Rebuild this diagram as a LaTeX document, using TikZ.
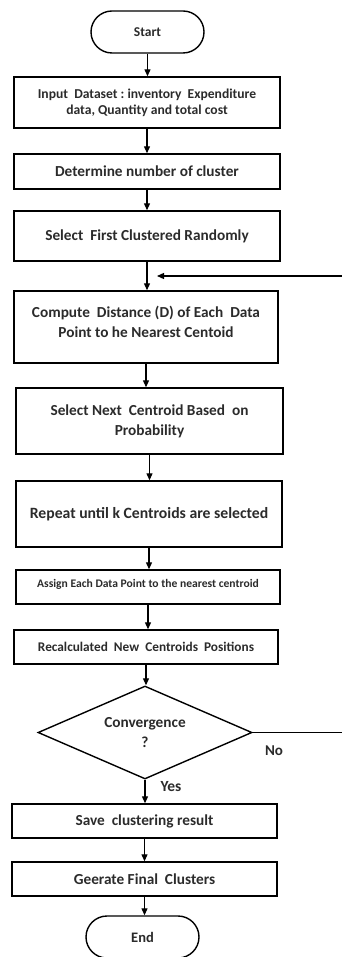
\documentclass[tikz,border=0pt]{standalone}
\usepackage{fontspec}
\setmainfont{Carlito}
\usetikzlibrary{arrows.meta,shapes.geometric}
\definecolor{txtgray}{HTML}{2B2B2B}
\newcommand{\fsz}[2]{\fontsize{#1}{#2}\selectfont}
\begin{document}
\begin{tikzpicture}[x=1pt,y=-1pt,
    box/.style={draw, line width=1.4pt, text=txtgray, align=center, inner sep=0pt,
                minimum width=266pt, font=\bfseries\fsz{15.3}{20}},
    term/.style={draw, line width=1.4pt, text=txtgray, rounded corners=21pt,
                 minimum width=113pt, minimum height=42pt, font=\bfseries\fsz{13.5}{16}},
    cond/.style={draw, diamond, line width=1.4pt, text=txtgray, align=center, inner sep=0pt,
                 aspect=2.3, minimum width=214pt, minimum height=93pt, font=\bfseries\fsz{15.3}{20}},
    arr/.style={-{Triangle[length=7pt,width=6pt]}, line width=1.2pt}]
    \useasboundingbox (0,0) rectangle (341,957);
    % blocks
    \node[term] (start) at (147.5,32) {Start};
    \node[box, minimum height=51pt, font=\bfseries\fsz{13.6}{16}] (inp) at (147,102.5)
        {Input\ \ Dataset\ :\ inventory\ \ Expenditure\\data, Quantity and total cost};
    \node[box, minimum height=35pt] (det) at (147,171.5) {Determine number of cluster};
    \node[box, minimum height=50pt] (sel) at (147,236) {Select\ \ First Clustered Randomly};
    \node[box, minimum width=264pt, minimum height=72pt] (comp) at (146,327)
        {Compute\ \ Distance (D) of Each\ \ Data\\Point to he Nearest Centoid\\[-10pt]};
    \node[box, minimum width=267pt, minimum height=66pt] (next) at (149.5,421)
        {Select Next\ \ Centroid Based\ \ on\\Probability};
    \node[box, minimum height=66pt, font=\bfseries\fsz{15.7}{20}] (rep) at (149,514)
        {Repeat until k Centroids are selected};
    \node[box, minimum width=264pt, minimum height=34pt, font=\bfseries\fsz{11.6}{14}] (asg) at (148,587)
        {Assign Each Data Point to the nearest centroid\\[-6pt]};
    \node[box, minimum width=264pt, minimum height=34pt, font=\bfseries\fsz{13.3}{16}] (rec) at (146,647)
        {Recalculated\ \ New\ \ Centroids\ \ Positions};
    \node[cond] (conv) at (145,732.5) {Convergence\\?};
    \node[box, minimum width=265pt, minimum height=34pt] (save) at (144.5,821) {Save\ \ clustering result};
    \node[box, minimum width=265pt, minimum height=34pt] (gen) at (144.5,879) {Geerate Final\ \ Clusters};
    \node[term, font=\bfseries\fsz{14.5}{16}] (end) at (142.5,937) {End};
    % labels
    \node[text=txtgray, font=\bfseries\fsz{15.5}{16}] (yes) at (171,787) {Yes};
    \node[text=txtgray, font=\bfseries\fsz{15}{16}] (no) at (274,751) {No};
    \coordinate (fb) at (157,276);
    % arrows
    \foreach \a/\b in {start/inp, inp/det, det/sel, sel/comp, comp/next, next/rep,
                       rep/asg, asg/rec, rec/conv, conv/save, save/gen, gen/end}
        \draw[arr] (\a) -- (\a |- \b.north);
    \draw[arr] (conv.east) -- ++(96,0) |- (fb);
\end{tikzpicture}
\end{document}
